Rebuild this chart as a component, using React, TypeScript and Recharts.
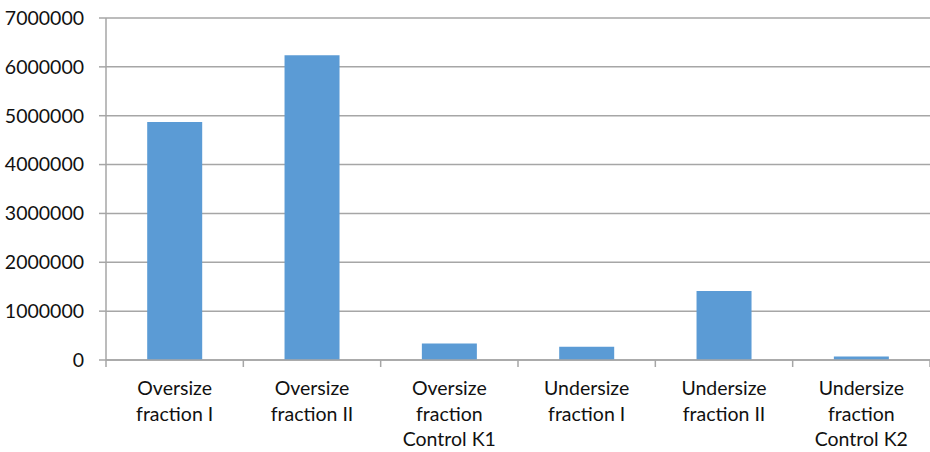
import { Bar, BarChart, CartesianGrid, XAxis, YAxis } from "recharts";

const categories = [
  "Oversize\nfraction I",
  "Oversize\nfraction II",
  "Oversize\nfraction\nControl K1",
  "Undersize\nfraction I",
  "Undersize\nfraction II",
  "Undersize\nfraction\nControl K2",
];
const values = [4870000, 6240000, 340000, 270000, 1410000, 70000];
const yTicks = [0, 1000000, 2000000, 3000000, 4000000, 5000000, 6000000, 7000000];

const data = categories.map((name, i) => ({ name, value: values[i] }));

const FONT = "Lato, 'Open Sans', sans-serif";
const GRID = "#a6a6a6";
const TEXT = "#111111";
const CHART_W = 930;
const AXIS_W = 106;
const HALF_BAND = (CHART_W - AXIS_W) / categories.length / 2;

function CategoryTick({ x, y, payload, index }: any) {
  const lines = String(payload.value).split("\n");
  const last = index === categories.length - 1;
  return (
    <g>
      <line x1={x - HALF_BAND} x2={x - HALF_BAND} y1={y} y2={y + 7} stroke={GRID} strokeWidth={1.5} />
      {last && (
        <line x1={x + HALF_BAND} x2={x + HALF_BAND} y1={y} y2={y + 7} stroke={GRID} strokeWidth={1.5} />
      )}
      <text x={x} y={y + 35} textAnchor="middle" fill={TEXT} fontSize={19.5} fontFamily={FONT}>
        {lines.map((line, i) => (
          <tspan key={i} x={x} dy={i === 0 ? 0 : 25.5}>
            {line}
          </tspan>
        ))}
      </text>
    </g>
  );
}

export default function App() {
  return (
    <div style={{ position: "absolute", left: 0, top: 0, width: CHART_W, height: 452, background: "#fff" }}>
      <BarChart
        width={CHART_W}
        height={452}
        data={data}
        margin={{ top: 18, right: 0, bottom: 0, left: 0 }}
        barCategoryGap="30%"
      >
        <CartesianGrid vertical={false} stroke={GRID} strokeWidth={1.5} />
        <XAxis
          dataKey="name"
          height={92}
          stroke={GRID}
          strokeWidth={1.5}
          tickLine={false}
          tickSize={0}
          tickMargin={0}
          interval={0}
          tick={<CategoryTick />}
        />
        <YAxis
          width={AXIS_W}
          domain={[0, 7000000]}
          ticks={yTicks}
          interval={0}
          tickSize={7}
          tickMargin={15}
          stroke={GRID}
          strokeWidth={1.5}
          tick={{ fill: TEXT, fontSize: 19.5, fontFamily: FONT }}
          tickFormatter={(v: number) => String(v)}
        />
        <Bar dataKey="value" fill="#5b9bd5" isAnimationActive={false} />
      </BarChart>
    </div>
  );
}
